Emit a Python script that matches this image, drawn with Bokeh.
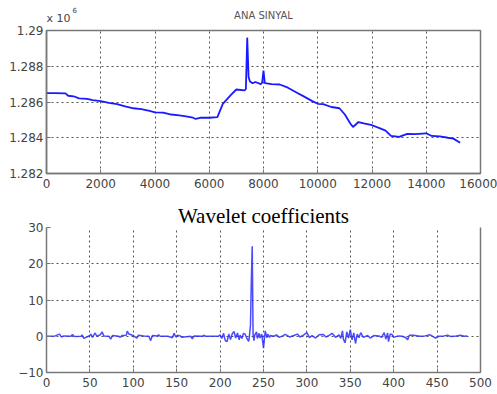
from bokeh.plotting import figure
from bokeh.layouts import column
from bokeh.models import Range1d, FixedTicker, LinearAxis, Title
from bokeh.embed import file_html
from bokeh.resources import INLINE

# ---- top signal (ANA SINYAL), values in units of 1e6 ----
top_x = [0, 300, 700, 800, 1000, 1200, 1500, 1700, 2000, 2300, 2600, 2900, 3200,
         3500, 3800, 4000, 4300, 4600, 4900, 5200, 5400, 5500, 5700, 6000, 6300,
         6500, 6800, 7000, 7300, 7350, 7400, 7450, 7500, 7600, 7700, 7900, 7950,
         8000, 8050, 8300, 8600, 8900, 9200, 9500, 9800, 10000, 10200, 10500,
         10800, 11000, 11200, 11300, 11500, 11700, 12000, 12300, 12500, 12700,
         13000, 13300, 13600, 14000, 14200, 14500, 14800, 15000, 15250]
top_y = [1.28650, 1.28650, 1.28648, 1.28635, 1.28632, 1.28620, 1.28618, 1.28610,
         1.28605, 1.28595, 1.28588, 1.28575, 1.28565, 1.28560, 1.28550, 1.28542,
         1.28540, 1.28530, 1.28525, 1.28518, 1.28512, 1.28505, 1.28512, 1.28512,
         1.28515, 1.28590, 1.28640, 1.28670, 1.28665, 1.28672, 1.28960, 1.28740,
         1.28715, 1.28705, 1.28712, 1.28700, 1.28708, 1.28775, 1.28705, 1.28700,
         1.28698, 1.28680, 1.28655, 1.28630, 1.28605, 1.28590, 1.28588, 1.28572,
         1.28565, 1.28530, 1.28480, 1.28460, 1.28488, 1.28480, 1.28470, 1.28452,
         1.28440, 1.28410, 1.28405, 1.28422, 1.28420, 1.28425, 1.28410, 1.28408,
         1.28400, 1.28395, 1.28372]
top_xticks = [0, 2000, 4000, 6000, 8000, 10000, 12000, 14000, 16000]
top_yticks = [1.282, 1.284, 1.286, 1.288, 1.29]
top_ylabels = ["1.282", "1.284", "1.286", "1.288", "1.29"]
top_title = "ANA SINYAL"
top_scale_text = "x 10"
top_scale_exp = "6"

# ---- wavelet coefficients ----
coef_pts = [(0,0),(10,0.1),(15,0.6),(17,-0.2),(20,0.1),(28,0),(30,0.5),(32,-0.1),(40,0),
            (41,0.4),(43,-0.6),(50,0.2),(51,0.6),(53,-0.3),(56,0.9),(58,0),(62,0.4),(64,1.2),
            (66,0.1),(72,0),(74,-0.8),(76,0.2),(83,0),(85,-0.3),(87,0.2),(92,0.3),(93,1.4),
            (95,0.6),(100,0.2),(104,-0.5),(106,0.3),(112,0.1),(118,0),(120,-1.2),(122,0.2),
            (128,0.1),(129,0.4),(131,0),(140,0),(145,-0.4),(147,0.8),(149,-0.2),(151,0.3),
            (154,0.1),(156,-0.3),(166,0),(168,-0.7),(170,0.1),(180,0),(181,0.3),(183,0),
            (198,0),(200,0.4),(202,-0.6),(204,0.8),(206,-1.2),(208,-1.5),(210,0.6),(212,-0.9),
            (214,0.7),(216,1.3),(218,-0.5),(220,0.9),(222,-1.0),(223,0.3),(225,-0.6),(227,0.8),
            (229,0.5),(231,-0.7),(233,-1.4),(234,0.6),(235,3.0),(236,15.5),(237,24.8),(238,0.5),
            (239,-1.2),(240,0.4),(242,1.2),(243,-0.6),(245,0.8),(246,-0.5),(248,0.6),(250,-3.3),
            (252,1.5),(254,-0.4),(255,0.6),(257,-0.3),(258,0.2),(262,0),(265,0.4),(268,-0.3),
            (272,0.1),(275,0.5),(280,-0.2),(285,0.2),(289,0.6),(292,-0.2),(296,0.3),(300,1.0),
            (303,-0.4),(306,0.2),(310,-0.5),(314,0.4),(319,0.5),(322,-0.2),(326,0.3),(329,0.8),
            (333,-0.3),(337,0.4),(339,-0.6),(341,1.5),(342,-0.8),(344,-1.8),(346,1.2),(348,-0.5),
            (350,1.8),(352,-1.0),(354,0.9),(356,-2.0),(358,0.6),(360,-0.4),(362,1.0),(365,-0.3),
            (370,0.2),(373,-0.5),(377,0.2),(383,0.1),(386,-0.3),(389,1.0),(391,-0.8),(393,0.9),
            (394,-1.5),(396,0.6),(398,0.5),(400,-0.3),(405,0.1),(410,0),(414,-0.4),(416,-1.0),
            (418,0.3),(423,0.3),(430,0),(436,0.1),(442,0.4),(446,-0.2),(448,-0.5),(452,0),
            (458,0.1),(462,0.3),(466,-0.1),(472,0.1),(477,0.3),(481,0),(485,0.1)]
coef_x = [p[0] for p in coef_pts]
coef_y = [p[1] for p in coef_pts]
bot_xticks = [0, 50, 100, 150, 200, 250, 300, 350, 400, 450, 500]
bot_yticks = [-10, 0, 10, 20, 30]
bot_title = "Wavelet coefficients"

LABEL_FONT = "DejaVu Sans"
LABEL_COLOR = "#444444"
GRID_COLOR = "#555555"
AXIS_COLOR = "#777777"


def style(p, xticks, yticks):
    for ax in (p.xaxis[0], p.yaxis[0]):
        ax.axis_line_color = AXIS_COLOR
        ax.axis_line_width = 1.5
        ax.major_tick_in = 4
        ax.major_tick_out = 0
        ax.minor_tick_line_color = None
        ax.major_tick_line_color = AXIS_COLOR
        ax.major_label_text_font = LABEL_FONT
        ax.major_label_text_font_size = "12px"
        ax.major_label_text_color = LABEL_COLOR
    p.xaxis[0].major_label_standoff = 5
    p.yaxis[0].major_label_standoff = 3
    p.xaxis[0].ticker = FixedTicker(ticks=xticks)
    p.yaxis[0].ticker = FixedTicker(ticks=yticks)
    p.xgrid.ticker = FixedTicker(ticks=xticks)
    p.ygrid.ticker = FixedTicker(ticks=yticks)
    for g in (p.xgrid, p.ygrid):
        g.grid_line_color = GRID_COLOR
        g.grid_line_dash = "2 3"
        g.grid_line_width = 1
    p.background_fill_color = "white"
    p.border_fill_color = "white"


# ---- top figure ----
p1 = figure(width=497, height=193, output_backend="svg", toolbar_location=None,
            x_range=Range1d(0, 16000), y_range=Range1d(1.282, 1.29),
            min_border_left=46, min_border_right=15, min_border_top=30, min_border_bottom=20)
# outermost title row: chart title
p1.title.text = top_title
p1.title.align = "center"
p1.title.text_font = LABEL_FONT
p1.title.text_font_size = "10px"
p1.title.text_font_style = "normal"
p1.title.text_color = "#555555"
p1.title.standoff = -35
# closest to the frame: the axis multiplier "x 10^6"
p1.add_layout(Title(text=top_scale_text, align="left", text_font=LABEL_FONT,
                    text_font_size="11px", text_font_style="normal",
                    text_color=LABEL_COLOR, standoff=12), "above")
p1.add_layout(Title(text=top_scale_exp, align="left", offset=26, text_font=LABEL_FONT,
                    text_font_size="7px", text_font_style="normal",
                    text_color=LABEL_COLOR, standoff=-18), "above")
style(p1, top_xticks, top_yticks)
p1.yaxis[0].major_label_overrides = {t: s for t, s in zip(top_yticks, top_ylabels)}
p1.outline_line_color = AXIS_COLOR
p1.outline_line_width = 1.5
p1.line(top_x, top_y, line_color="#1a1aff", line_width=1.8)

# ---- bottom figure ----
p2 = figure(width=497, height=201, output_backend="svg", toolbar_location=None,
            x_range=Range1d(0, 500), y_range=Range1d(-10, 30),
            min_border_left=46, min_border_right=17, min_border_top=34, min_border_bottom=22)
p2.title.text = bot_title
p2.title.align = "center"
p2.title.text_font = "Liberation Serif"
p2.title.text_font_size = "21px"
p2.title.text_font_style = "normal"
p2.title.text_color = "black"
p2.title.standoff = 0
style(p2, bot_xticks, bot_yticks)
p2.outline_line_color = None
right_ax = LinearAxis(ticker=FixedTicker(ticks=[]), axis_line_color=AXIS_COLOR,
                      axis_line_width=1.5, major_tick_line_color=None,
                      minor_tick_line_color=None)
p2.add_layout(right_ax, "right")
p2.line(coef_x, coef_y, line_color="#2a2aff", line_width=1.5, line_alpha=0.85)

layout = column(p1, p2, spacing=0)
open("out.html", "w").write(file_html(layout, INLINE))
